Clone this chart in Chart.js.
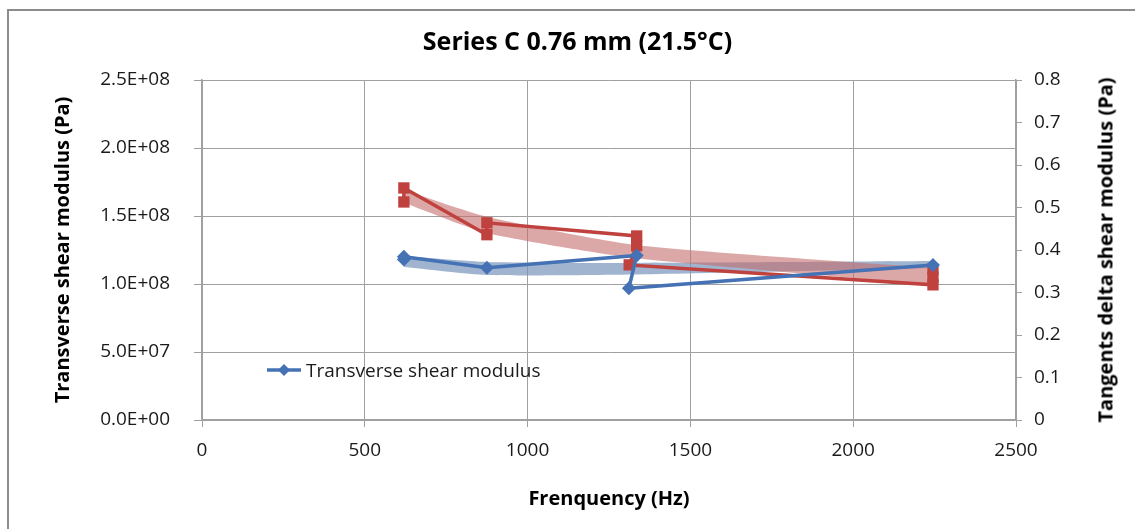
<!DOCTYPE html>
<html>
<head>
<meta charset="utf-8">
<script src="https://cdn.jsdelivr.net/npm/chart.js@4/dist/chart.umd.min.js"></script>
<style>
  body { margin: 0; background: #fff; }
  #wrap { position: relative; width: 1135px; height: 529px; overflow: hidden; }
  #frame { position: absolute; left: 7px; top: 9px; width: 1200px; height: 600px;
           border-top: 2px solid #8c8c8c; border-left: 2px solid #8c8c8c; }
  canvas { position: absolute; left: 0; top: 0; }
  #legend { position: absolute; left: 266px; top: 357px; font: 19px "Open Sans", sans-serif;
            color: #1a1a1a; display: flex; align-items: center; }
  #legend svg { margin-right: 4px; }
  #rtitle { position: absolute; left: 1105px; top: 250px; white-space: nowrap;
            font: bold 20px "Open Sans", sans-serif; color: #000;
            transform: translate(-50%, -50%) rotate(-90deg); }
</style>
</head>
<body>
<div id="wrap">
  <div id="frame"></div>
  <canvas id="chart" width="1135" height="529"></canvas>
  <div id="legend">
    <svg width="36" height="14"><line x1="1" y1="7" x2="35" y2="7" stroke="#4472b4" stroke-width="3.5"/><path d="M18 1 L24 7 L18 13 L12 7 Z" fill="#4472b4"/></svg>
    <span>Transverse shear modulus</span>
  </div>
  <div id="rtitle">Tangents delta shear modulus (Pa)</div>
</div>
<script>
const shearFreq = [620, 620, 875, 1335, 1311, 2245];
const shearModulus = [1.18e8, 1.20e8, 1.12e8, 1.21e8, 0.968e8, 1.14e8];

const tanFreq = [620, 620, 875, 875, 1335, 1335, 1312, 2245, 2245, 2245];
const tanDelta = [0.513, 0.546, 0.436, 0.464, 0.433, 0.41, 0.365, 0.318, 0.336, 0.355];

// shaded bands behind each series
const shearBandFreq = [620, 875, 1320, 2245];
const shearBandHigh = [1.206e8, 1.162e8, 1.155e8, 1.169e8];
const shearBandLow = [1.125e8, 1.066e8, 1.07e8, 1.118e8];

const tanBandFreq = [620, 875, 1330, 2245];
const tanBandHigh = [0.541, 0.478, 0.412, 0.358];
const tanBandLow = [0.511, 0.44, 0.381, 0.318];

const xTicks = [0, 500, 1000, 1500, 2000, 2500];

const pts = (xs, ys) => xs.map((x, i) => ({ x: x, y: ys[i] }));

const BLUE = "#4472b4";
const RED = "#c0423f";
const GRID = "#a0a0a0";
const TXT = "#1a1a1a";
const font = (size, weight) => ({ family: "'Open Sans', sans-serif", size: size, weight: weight || "normal" });

function sci(v) {
  const [m, e] = v.toExponential(1).split("e");
  return m + "E" + e[0] + e.slice(1).padStart(2, "0");
}

new Chart(document.getElementById("chart"), {
  type: "scatter",
  data: {
    datasets: [
      {
        label: "Transverse shear modulus",
        data: pts(shearFreq, shearModulus),
        yAxisID: "y",
        showLine: true,
        borderColor: BLUE,
        backgroundColor: BLUE,
        borderWidth: 3.5,
        pointStyle: "rectRot",
        pointRadius: 7,
        pointBorderWidth: 0,
        order: 0,
      },
      {
        label: "Tangents delta",
        data: pts(tanFreq, tanDelta),
        yAxisID: "y2",
        showLine: true,
        borderColor: RED,
        backgroundColor: RED,
        borderWidth: 3.5,
        pointStyle: "rect",
        pointRadius: 8,
        pointBorderWidth: 0,
        order: 0,
      },
      {
        label: "shear band high",
        data: pts(shearBandFreq, shearBandHigh),
        yAxisID: "y",
        showLine: true,
        borderWidth: 0,
        borderColor: "rgba(0,0,0,0)",
        pointRadius: 0,
        tension: 0.2,
        fill: "+1",
        backgroundColor: "rgba(120,148,186,0.7)",
        order: 2,
      },
      {
        label: "shear band low",
        data: pts(shearBandFreq, shearBandLow),
        yAxisID: "y",
        showLine: true,
        borderWidth: 0,
        borderColor: "rgba(0,0,0,0)",
        pointRadius: 0,
        tension: 0.2,
        order: 2,
      },
      {
        label: "tan band high",
        data: pts(tanBandFreq, tanBandHigh),
        yAxisID: "y2",
        showLine: true,
        borderWidth: 0,
        borderColor: "rgba(0,0,0,0)",
        pointRadius: 0,
        tension: 0.2,
        fill: "+1",
        backgroundColor: "rgba(196,110,108,0.6)",
        order: 1,
      },
      {
        label: "tan band low",
        data: pts(tanBandFreq, tanBandLow),
        yAxisID: "y2",
        showLine: true,
        borderWidth: 0,
        borderColor: "rgba(0,0,0,0)",
        pointRadius: 0,
        tension: 0.2,
        order: 1,
      },
    ],
  },
  options: {
    responsive: false,
    animation: false,
    layout: { padding: { left: 20 } },
    plugins: {
      legend: { display: false },
      tooltip: { enabled: false },
      title: {
        display: true,
        text: "Series C 0.76 mm (21.5°C)",
        color: "#000",
        font: font(25, "bold"),
        padding: { top: 28, bottom: 22 },
      },
    },
    scales: {
      x: {
        type: "linear",
        min: 0,
        max: 2500,
        afterBuildTicks: (s) => { s.ticks = xTicks.map((v) => ({ value: v })); },
        afterFit: (s) => { s.height = 109; },
        grid: { color: GRID, tickLength: 7, tickColor: GRID },
        border: { color: GRID, width: 1.5 },
        ticks: { color: TXT, font: font(19), padding: 12, callback: (v) => String(v) },
        title: {
          display: true,
          text: "Frenquency (Hz)",
          color: "#000",
          font: font(20, "bold"),
          padding: { top: 0, bottom: 18 },
        },
      },
      y: {
        position: "left",
        min: 0,
        max: 2.5e8,
        afterFit: (s) => { s.width = 182; },
        grid: { color: GRID, tickLength: 8, tickColor: GRID },
        border: { color: GRID, width: 1.5 },
        ticks: { stepSize: 5e7, color: TXT, font: font(19), padding: 24, callback: (v) => sci(v) },
        title: {
          display: true,
          text: "Transverse shear modulus (Pa)",
          color: "#000",
          font: font(20, "bold"),
          padding: { top: 31, bottom: 0 },
        },
      },
      y2: {
        position: "right",
        min: 0,
        max: 0.8,
        afterFit: (s) => { s.width = 119; },
        grid: { drawOnChartArea: false, tickLength: 6, tickColor: GRID },
        border: { color: GRID, width: 1.5 },
        ticks: { stepSize: 0.1, color: TXT, font: font(19), padding: 12, callback: (v) => String(Number(v.toFixed(1))) },
      },
    },
  },
});
</script>
</body>
</html>
